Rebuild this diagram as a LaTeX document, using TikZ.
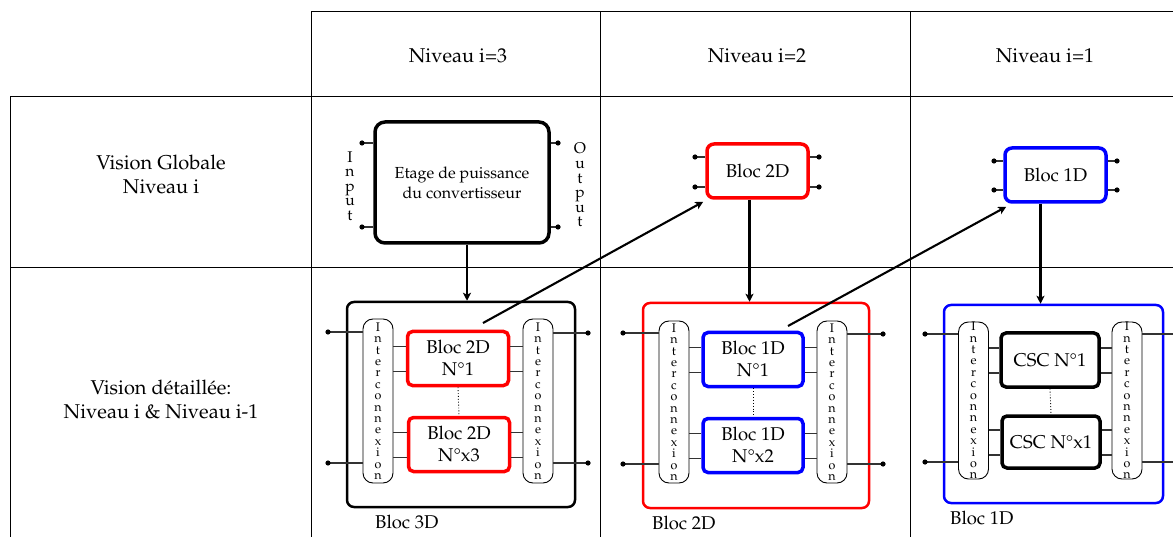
\documentclass[tikz,border=0pt]{standalone}
\usepackage[T1]{fontenc}
\usepackage{mathpazo}
\usetikzlibrary{arrows.meta,calc}
\newcommand\ictext{I\\n\\t\\e\\r\\c\\o\\n\\n\\e\\x\\i\\o\\n}
\tikzset{
  grid/.style={line width=1pt},
  hdr/.style={font=\fontsize{20}{24}\selectfont, align=center},
  gbox/.style={draw, rounded corners=7pt, line width=3.5pt, font=\fontsize{18.5}{22}\selectfont, align=center, inner sep=0pt},
  obox/.style={draw, rounded corners=7pt, line width=2.5pt, inner sep=0pt},
  ibox/.style={draw, rounded corners=10pt, line width=0.9pt, minimum width=30pt, inner sep=0pt, align=center, font=\fontsize{12.5}{11.4}\selectfont},
  blk/.style={draw, rounded corners=5pt, line width=3.5pt, minimum width=101pt, minimum height=54pt, inner sep=0pt, align=center, font=\fontsize{18.5}{22}\selectfont},
  wire/.style={line width=1.1pt, draw=black!80},
  arr/.style={-{Stealth[length=8pt,width=8pt,inset=2pt]}, line width=2.1pt},
  lbl/.style={font=\fontsize{18.5}{22}\selectfont, anchor=west, inner sep=0pt},
  io/.style={font=\fontsize{15.5}{14.6}\selectfont, align=center, inner sep=0pt}
}
\begin{document}
\begin{tikzpicture}[x=1pt,y=-1pt]
\useasboundingbox (0,0) rectangle (1173,537);
% table
\draw[grid] (311,12) -- (1173,12);
\draw[grid] (311,12) -- (311,537);
\draw[grid] (600,12) -- (600,537);
\draw[grid] (910,12) -- (910,537);
\draw[grid] (10,97) -- (1173,97);
\draw[grid] (10,268) -- (1173,268);
\draw[grid] (10,97) -- (10,537);
\node[hdr] (h3) at (458,56) {Niveau i=3};
\node[hdr] (h2) at (757,56) {Niveau i=2};
\node[hdr] (h1) at (1045,56) {Niveau i=1};
\node[hdr] (vg) at (161,174) {Vision Globale\\Niveau i};
\node[hdr] (vd) at (161,399) {Vision détaillée:\\Niveau i \& Niveau i-1};

% ---- global row
\node[gbox, minimum width=174pt, minimum height=121pt, rounded corners=10pt, font=\fontsize{16}{20}\selectfont] (G3) at (462,182.5) {Etage de puissance\\du convertisseur};
\node[io] (inp) at (350,186) {I\\n\\p\\u\\t};
\node[io] (outp) at (580,185) {O\\u\\t\\p\\u\\t};
\node[gbox, draw=red, minimum width=101pt, minimum height=54pt] (G2) at (757.5,171) {Bloc 2D};
\node[gbox, draw=blue, minimum width=101pt, minimum height=54pt] (G1) at (1055.5,175) {Bloc 1D};

\coordinate (g3a) at (362,143); \coordinate (g3b) at (362,227);
\coordinate (g3c) at (558,143); \coordinate (g3d) at (558,227);
\coordinate (g2a) at (695,157); \coordinate (g2b) at (695,187);
\coordinate (g2c) at (819,157); \coordinate (g2d) at (819,187);
\coordinate (g1a) at (994,161); \coordinate (g1b) at (994,190);
\coordinate (g1c) at (1117,161); \coordinate (g1d) at (1117,190);
\foreach \p/\n in {g3a/G3,g3b/G3,g2a/G2,g2b/G2,g1a/G1,g1b/G1}{
  \draw[wire] (\p) -- (\p -| \n.west); \fill (\p) circle (2.6pt);}
\foreach \p/\n in {g3c/G3,g3d/G3,g2c/G2,g2d/G2,g1c/G1,g1d/G1}{
  \draw[wire] (\p) -- (\p -| \n.east); \fill (\p) circle (2.6pt);}

% ---- detailed row, column 1
\node[obox, draw=black, minimum width=228pt, minimum height=205pt] (D3) at (461,404.5) {};
\node[ibox, minimum height=164pt] (I3L) at (378,401) {\ictext};
\node[ibox, minimum height=164pt] (I3R) at (538,401) {\ictext};
\node[blk, draw=red] (B3a) at (458,358.5) {Bloc 2D\\N\textdegree1};
\node[blk, draw=red] (B3b) at (459,444.5) {Bloc 2D\\N\textdegree x3};
\node[lbl] (L3) at (375,522) {Bloc 3D};

% ---- detailed row, column 2
\node[obox, draw=red, minimum width=226pt, minimum height=205pt] (D2) at (756,405.5) {};
\node[ibox, minimum height=162pt] (I2L) at (674,402) {\ictext};
\node[ibox, minimum height=162pt] (I2R) at (832,402) {\ictext};
\node[blk, draw=blue, minimum width=100pt] (B2a) at (753,359.5) {Bloc 1D\\N\textdegree1};
\node[blk, draw=blue, minimum width=100pt] (B2b) at (753,445.5) {Bloc 1D\\N\textdegree x2};
\node[lbl] (L2) at (652,523) {Bloc 2D};

% ---- detailed row, column 3
\node[obox, draw=blue, minimum width=219pt, minimum height=198pt] (D1) at (1053.5,404) {};
\node[ibox, minimum height=157pt] (I1L) at (973.5,400.5) {\ictext};
\node[ibox, minimum height=157pt] (I1R) at (1127,400.5) {\ictext};
\node[blk, draw=black, minimum width=98pt] (B1a) at (1050,360) {CSC N\textdegree1};
\node[blk, draw=black, minimum width=98pt, minimum height=52pt] (B1b) at (1051,442) {CSC N\textdegree x1};
\node[lbl] (L1) at (950,518) {Bloc 1D};

% inner wires
\foreach \b/\l/\r in {B3a/I3L/I3R,B3b/I3L/I3R,B2a/I2L/I2R,B2b/I2L/I2R,B1a/I1L/I1R,B1b/I1L/I1R}{
  \draw[wire] ([yshift=12pt]\b.west) -- ([yshift=12pt]\b.west -| \l.east);
  \draw[wire] ([yshift=-13pt]\b.west) -- ([yshift=-13pt]\b.west -| \l.east);
  \draw[wire] ([yshift=12pt]\b.east) -- ([yshift=12pt]\b.east -| \r.west);
  \draw[wire] ([yshift=-13pt]\b.east) -- ([yshift=-13pt]\b.east -| \r.west);
}
\draw[dotted, line width=0.9pt] (B3a.south) -- (B3b.north);
\draw[dotted, line width=0.9pt] (B2a.south) -- (B2b.north);
\draw[dotted, line width=0.9pt] (B1a.south) -- (B1b.north);

% outer pins
\coordinate (q3a) at (328,332); \coordinate (q3b) at (328,463);
\coordinate (q3c) at (588,333); \coordinate (q3d) at (588,463);
\coordinate (q2a) at (623,333); \coordinate (q2b) at (623,464);
\coordinate (q2c) at (883,334); \coordinate (q2d) at (883,464);
\coordinate (q1a) at (925,334); \coordinate (q1b) at (925,462);
\coordinate (q1c) at (1180,334); \coordinate (q1d) at (1180,462);
\foreach \p/\n in {q3a/I3L,q3b/I3L,q2a/I2L,q2b/I2L,q1a/I1L,q1b/I1L}{
  \draw[wire] (\p) -- (\p -| \n.west); \fill (\p) circle (2.6pt);}
\foreach \p/\n in {q3c/I3R,q3d/I3R,q2c/I2R,q2d/I2R,q1c/I1R,q1d/I1R}{
  \draw[wire] (\p) -- (\p -| \n.east); \fill (\p) circle (2.6pt);}

% arrows
\draw[arr] ([xshift=5pt]G3.south) -- ([xshift=5pt]G3.south |- D3.north);
\draw[arr] ([xshift=-8pt]G2.south) -- ([xshift=-8pt]G2.south |- D2.north);
\draw[arr] ([xshift=-15pt]G1.south) -- ([xshift=-15pt]G1.south |- D1.north);
\coordinate (s3) at (483,323);
\coordinate (s2) at (788,326);
\draw[arr] (s3) -- ([shift={(-2pt,-2pt)}]G2.south west);
\draw[arr] (s2) -- ([shift={(3pt,-3pt)}]G1.south west);
\end{tikzpicture}
\end{document}
